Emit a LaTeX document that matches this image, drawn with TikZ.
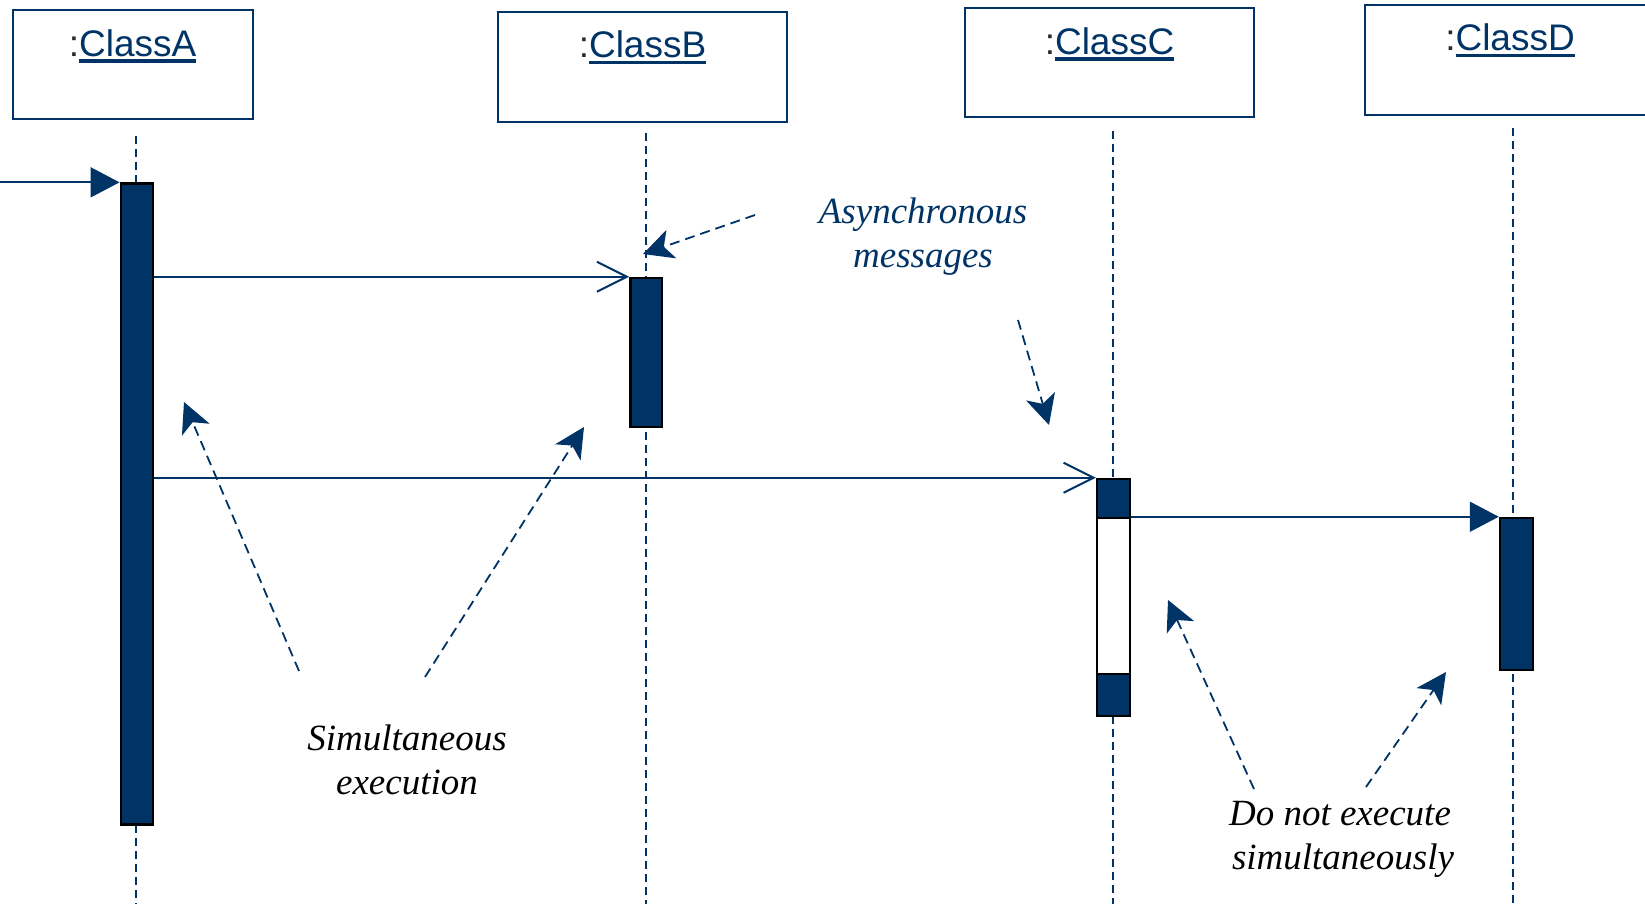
\documentclass[tikz,border=0pt]{standalone}
\usepackage{fontspec}
\setmainfont{Liberation Serif}
\newfontfamily\labfont{Liberation Sans}
\usetikzlibrary{arrows.meta}
\definecolor{navy}{RGB}{0,51,102}
\definecolor{colon}{RGB}{40,40,50}
\newcommand\myul[1]{\setbox0\hbox{#1}\rlap{\color{navy}\rule[-6.5pt]{\wd0}{3.5pt}}\box0}
\begin{document}
\begin{tikzpicture}[x=1pt,y=-1pt,
  clsbox/.style={draw=navy, line width=2pt, inner sep=0pt, fill=white},
  clslabel/.style={anchor=base, inner sep=0pt, text=navy, font=\labfont\fontsize{37}{44}\selectfont},
  life/.style={navy, line width=1.8pt, dash pattern=on 8pt off 5pt},
  act/.style={draw=black, line width=2.5pt, fill=navy, inner sep=0pt},
  msgsync/.style={navy, line width=2pt, -{Triangle[length=29pt,width=30pt]}},
  msgasync/.style={navy, line width=2pt, -{Straight Barb[length=30pt,width=30pt,line width=2pt]}},
  note/.style={navy, line width=1.8pt, dash pattern=on 10pt off 6pt, -{Stealth[length=30pt,width=30pt,inset=8pt]}},
  notetext/.style={align=center, inner sep=0pt, text=navy, font=\itshape\fontsize{37}{44}\selectfont}
]
\useasboundingbox (0,0) rectangle (1645,904);

% lifelines
\coordinate (lAt) at (136,136);  \coordinate (lAb) at (136,904);
\coordinate (lBt) at (646,133);  \coordinate (lBb) at (646,904);
\coordinate (lCt) at (1113,131); \coordinate (lCb) at (1113,904);
\coordinate (lDt) at (1513,128); \coordinate (lDb) at (1513,904);
\draw[life] (lAt) -- (lAb);
\draw[life] (lBt) -- (lBb);
\draw[life] (lCt) -- (lCb);
\draw[life] (lDt) -- (lDb);

% class boxes
\node[clsbox, minimum width=240pt, minimum height=109pt] (boxA) at (132.7,65) {};
\node[clsbox, minimum width=289pt, minimum height=110pt] (boxB) at (642.5,66.6) {};
\node[clsbox, minimum width=289pt, minimum height=109pt] (boxC) at (1109.5,63) {};
\node[clsbox, minimum width=290pt, minimum height=110pt] (boxD) at (1510,60) {};
\node[clslabel] (labA) at ([yshift=-47pt]boxA.north) {\textcolor{colon}{:}\myul{ClassA}};
\node[clslabel] (labB) at ([yshift=-47pt]boxB.north) {\textcolor{colon}{:}\myul{ClassB}};
\node[clslabel] (labC) at ([yshift=-47pt]boxC.north) {\textcolor{colon}{:}\myul{ClassC}};
\node[clslabel] (labD) at ([yshift=-47pt]boxD.north) {\textcolor{colon}{:}\myul{ClassD}};

% activations
\node[act, minimum width=32pt, minimum height=641pt] (actA) at (136.8,504.1) {};
\node[act, minimum width=31.5pt, minimum height=149pt] (actB) at (646.2,352.5) {};
\node[act, fill=white, minimum width=33pt, minimum height=237pt] (actC) at (1113.5,597.5) {};
\node[act, line width=2pt, minimum width=33pt, minimum height=39pt, anchor=north] (actCt) at (actC.north) {};
\node[act, line width=2pt, minimum width=33pt, minimum height=42pt, anchor=south] (actCb) at (actC.south) {};
\node[act, minimum width=33pt, minimum height=152pt] (actD) at (1516.5,594) {};

% messages
\coordinate (start) at (0,183.6);
\draw[msgsync] (start |- actA.north west) -- (actA.north west);
\draw[msgasync] (actA.east |- actB.north) -- (actB.north west);
\draw[msgasync] (actA.east |- actC.north) -- (actC.north west);
\draw[msgsync] (actC.east |- actD.north) -- (actD.north west);

% notes
\node[notetext] (tAsync) at (923,237) {Asynchronous\\messages};
\node[notetext, text=black] (tSim) at (407,760) {Simultaneous\\execution};
\node[notetext, text=black] (tDo) at (1340,839) {Do not execute\\\hspace*{6pt}simultaneously};

\coordinate (n1s) at (755,215);  \coordinate (n1e) at (643,254);
\coordinate (n2s) at (1018,320); \coordinate (n2e) at (1049,425);
\coordinate (n3s) at (299,671);  \coordinate (n3e) at (184,402);
\coordinate (n4s) at (425,677);  \coordinate (n4e) at (584,427);
\coordinate (n5s) at (1254,789); \coordinate (n5e) at (1168,600);
\coordinate (n6s) at (1366,787); \coordinate (n6e) at (1446,672);
\draw[note] (n1s) -- (n1e);
\draw[note] (n2s) -- (n2e);
\draw[note] (n3s) -- (n3e);
\draw[note] (n4s) -- (n4e);
\draw[note] (n5s) -- (n5e);
\draw[note] (n6s) -- (n6e);
\end{tikzpicture}
\end{document}
